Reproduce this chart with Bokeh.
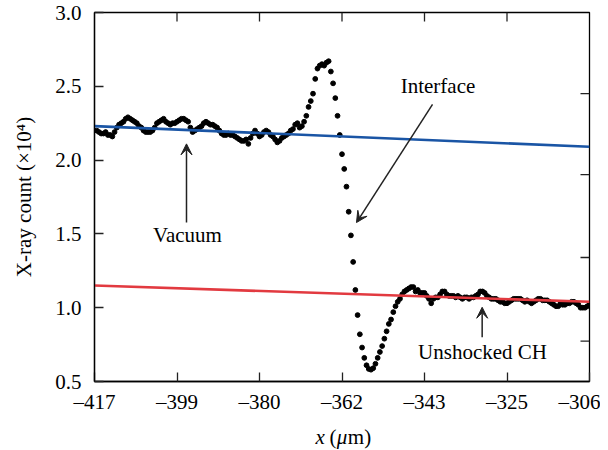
from bokeh.plotting import figure
from bokeh.layouts import column
from bokeh.models import Range1d, FixedTicker, Arrow, VeeHead, Label
from bokeh.embed import file_html
from bokeh.resources import INLINE

FONT = "Liberation Serif"

# ---- data ----
x_um = [
    -416.5, -416.0, -415.5, -415.0, -414.5, -414.0, -413.5, -413.0, -412.5, -412.0,
    -411.5, -411.0, -410.5, -410.0, -409.5, -409.0, -408.5, -408.0, -407.5, -407.0,
    -406.5, -406.0, -405.5, -405.0, -404.5, -404.0, -403.5, -403.0, -402.5, -402.0,
    -401.5, -401.0, -400.5, -400.0, -399.5, -399.0, -398.5, -398.0, -397.5, -397.0,
    -396.5, -396.0, -395.5, -395.0, -394.5, -394.0, -393.5, -393.0, -392.5, -392.0,
    -391.5, -391.0, -390.5, -390.0, -389.5, -389.0, -388.5, -388.0, -387.5, -387.0,
    -386.5, -386.0, -385.5, -385.0, -384.5, -384.0, -383.5, -383.0, -382.5, -382.0,
    -381.5, -381.0, -380.5, -380.0, -379.5, -379.0, -378.5, -378.0, -377.5, -377.0,
    -376.5, -376.0, -375.5, -375.0, -374.5, -374.0, -373.5, -373.0, -372.5, -372.0,
    -371.5, -371.0, -370.5, -370.0, -369.5, -369.0, -368.5, -368.0, -367.5, -367.0,
    -366.5, -366.0, -365.5, -365.0, -364.5, -364.0, -363.5, -363.0, -362.5, -362.0,
    -361.5, -361.0, -360.5, -360.0, -359.5, -359.0, -358.5, -358.0, -357.5, -357.0,
    -356.5, -356.0, -355.5, -355.0, -354.5, -354.0, -353.5, -353.0, -352.5, -352.0,
    -351.5, -351.0, -350.5, -350.0, -349.5, -349.0, -348.5, -348.0, -347.5, -347.0,
    -346.5, -346.0, -345.5, -345.0, -344.5, -344.0, -343.5, -343.0, -342.5, -342.0,
    -341.5, -341.0, -340.5, -340.0, -339.5, -339.0, -338.5, -338.0, -337.5, -337.0,
    -336.5, -336.0, -335.5, -335.0, -334.5, -334.0, -333.5, -333.0, -332.5, -332.0,
    -331.5, -331.0, -330.5, -330.0, -329.5, -329.0, -328.5, -328.0, -327.5, -327.0,
    -326.5, -326.0, -325.5, -325.0, -324.5, -324.0, -323.5, -323.0, -322.5, -322.0,
    -321.5, -321.0, -320.5, -320.0, -319.5, -319.0, -318.5, -318.0, -317.5, -317.0,
    -316.5, -316.0, -315.5, -315.0, -314.5, -314.0, -313.5, -313.0, -312.5, -312.0,
    -311.5, -311.0, -310.5, -310.0, -309.5, -309.0, -308.5, -308.0, -307.5, -307.0,
    -306.5, -306.0,
]
counts = [
    2.20, 2.19, 2.18, 2.18, 2.19, 2.17, 2.17, 2.16, 2.19, 2.22,
    2.24, 2.25, 2.26, 2.28, 2.29, 2.28, 2.27, 2.26, 2.25, 2.23,
    2.22, 2.20, 2.19, 2.19, 2.19, 2.20, 2.22, 2.25, 2.26, 2.27,
    2.28, 2.26, 2.25, 2.24, 2.25, 2.25, 2.26, 2.27, 2.28, 2.28,
    2.27, 2.26, 2.22, 2.19, 2.20, 2.21, 2.22, 2.23, 2.25, 2.26,
    2.25, 2.24, 2.24, 2.23, 2.22, 2.20, 2.18, 2.17, 2.17, 2.18,
    2.17, 2.17, 2.16, 2.15, 2.14, 2.13, 2.13, 2.14, 2.11, 2.15,
    2.18, 2.20, 2.18, 2.16, 2.17, 2.19, 2.20, 2.19, 2.17, 2.16,
    2.14, 2.12, 2.13, 2.15, 2.16, 2.17, 2.18, 2.20, 2.21, 2.24,
    2.25, 2.22, 2.23, 2.26, 2.30, 2.36, 2.40, 2.45, 2.55, 2.62,
    2.64, 2.65, 2.64, 2.66, 2.67, 2.60, 2.52, 2.42, 2.30, 2.17,
    2.04, 1.94, 1.82, 1.65, 1.49, 1.31, 1.12, 0.95, 0.82, 0.73,
    0.66, 0.61, 0.585, 0.58, 0.59, 0.62, 0.66, 0.70, 0.74, 0.79,
    0.84, 0.89, 0.92, 0.97, 1.01, 1.04, 1.06, 1.09, 1.11, 1.12,
    1.13, 1.14, 1.14, 1.11, 1.12, 1.10, 1.10, 1.10, 1.08, 1.06,
    1.03, 1.06, 1.07, 1.07, 1.09, 1.11, 1.11, 1.09, 1.08, 1.08,
    1.08, 1.07, 1.08, 1.07, 1.06, 1.07, 1.07, 1.06, 1.07, 1.07,
    1.08, 1.09, 1.11, 1.11, 1.10, 1.08, 1.07, 1.06, 1.06, 1.06,
    1.05, 1.04, 1.04, 1.03, 1.03, 1.04, 1.05, 1.06, 1.06, 1.06,
    1.06, 1.05, 1.04, 1.05, 1.04, 1.03, 1.04, 1.05, 1.06, 1.06,
    1.05, 1.05, 1.05, 1.04, 1.03, 1.02, 1.01, 1.01, 1.03, 1.02,
    1.02, 1.03, 1.03, 1.04, 1.04, 1.03, 1.02, 1.00, 1.00, 1.00,
    1.01, 1.02,
]
vacuum_x = [-417.0, -306.0]
vacuum_y = [2.23, 2.09]
ch_x = [-417.0, -306.0]
ch_y = [1.15, 1.04]

x_ticks = [-417.0, -398.5, -380.0, -361.5, -343.0, -324.5, -306.0]
x_tick_labels = ["\u2013417", "\u2013399", "\u2013380", "\u2013362", "\u2013343", "\u2013325", "\u2013306"]
y_ticks = [0.5, 1.0, 1.5, 2.0, 2.5, 3.0]
y_tick_labels = ["0.5", "1.0", "1.5", "2.0", "2.5", "3.0"]
right_ticks = [0.773, 1.340, 1.902, 2.450]   # unlabelled ticks on the right edge

# annotations: (text, text x, text baseline y, arrow tail x, tail y, head x, head y)
annotations = [
    ("Vacuum", -396.15, 1.491, -396.37, 1.577, -396.37, 2.110),
    ("Interface", -339.97, 2.500, -341.2, 2.377, -358.25, 1.577),
    ("Unshocked CH", -329.99, 0.703, -330.07, 0.80, -330.07, 1.003),
]

# ---- main figure ----
X0, X1, Y0, Y1 = -417.0, -306.0, 0.5, 3.0
FW, FH = 495, 369
TICK = 9

p = figure(frame_width=FW, frame_height=FH, x_range=Range1d(X0, X1), y_range=Range1d(Y0, Y1),
           output_backend="svg", toolbar_location=None,
           min_border_left=94, min_border_right=11, min_border_top=12, min_border_bottom=37)
p.grid.visible = False
p.outline_line_color = "black"
p.outline_line_width = 1.3
p.background_fill_color = "white"
p.border_fill_color = "white"


def style(ax):
    ax.major_tick_in = TICK
    ax.major_tick_out = 0
    ax.minor_tick_in = 0
    ax.minor_tick_out = 0
    ax.axis_line_color = "black"
    ax.axis_line_width = 1.3
    ax.major_tick_line_color = "#222222"
    ax.major_tick_line_width = 1.3
    ax.major_label_text_font = FONT
    ax.major_label_text_color = "black"
    ax.major_label_text_font_size = "21px"


xa = p.xaxis[0]
xa.ticker = FixedTicker(ticks=x_ticks)
xa.major_label_overrides = dict(zip(x_ticks, x_tick_labels))
style(xa)
xa.major_label_standoff = 8

ya = p.yaxis[0]
ya.ticker = FixedTicker(ticks=y_ticks)
ya.major_label_overrides = dict(zip(y_ticks, y_tick_labels))
style(ya)
ya.major_label_standoff = 13
ya.axis_label = "X-ray count (\u00d710\u2074)"
ya.axis_label_text_font = FONT
ya.axis_label_text_font_size = "21px"
ya.axis_label_text_font_style = "normal"
ya.axis_label_text_color = "black"
ya.axis_label_standoff = 16

# inward ticks on the top and right edges (no labels)
dx = TICK * (X1 - X0) / FW
dy = TICK * (Y1 - Y0) / FH
top_t = x_ticks[1:-1]
p.segment(x0=top_t, y0=[Y1] * len(top_t), x1=top_t, y1=[Y1 - dy] * len(top_t),
          line_color="#222222", line_width=1.3)
p.segment(x0=[X1] * len(right_ticks), y0=right_ticks, x1=[X1 - dx] * len(right_ticks), y1=right_ticks,
          line_color="#222222", line_width=1.3)

# data points
p.scatter(x_um, counts, size=4.8, color="black")

# reference lines
p.line(vacuum_x, vacuum_y, line_color="#1a55a5", line_width=2.6)
p.line(ch_x, ch_y, line_color="#e23a40", line_width=2.6)

# annotations
for text, tx, ty, ax0, ay0, ax1, ay1 in annotations:
    p.add_layout(Label(x=tx, y=ty, text=text, text_font=FONT, text_font_size="21px",
                       text_align="center", text_baseline="alphabetic", text_color="black"))
    p.add_layout(Arrow(x_start=ax0, y_start=ay0, x_end=ax1, y_end=ay1,
                       line_color="#222222", line_width=1.5,
                       end=VeeHead(size=11, fill_color="#222222", line_color="#222222", line_width=1)))

# ---- strip below for the x-axis title "x (μm)" (italic x and μ) ----
STRIP_H = 32
q = figure(frame_width=FW, frame_height=STRIP_H, x_range=p.x_range, y_range=Range1d(0, STRIP_H),
           output_backend="svg", toolbar_location=None, x_axis_location=None, y_axis_location=None,
           min_border_left=94, min_border_right=11, min_border_top=0, min_border_bottom=0)
q.grid.visible = False
q.outline_line_color = None
q.background_fill_color = "white"
q.border_fill_color = "white"

x_label_parts = [("x", -367.44, "italic"), ("(", -364.3, "normal"),
                 ("\u03bc", -362.7, "italic"), ("m)", -360.2, "normal")]
for t, lx, st in x_label_parts:
    q.add_layout(Label(x=lx, y=14, text=t, text_font=FONT, text_font_size="21px",
                       text_font_style=st, text_align="left", text_baseline="alphabetic",
                       text_color="black"))

layout = column(p, q, spacing=0)
open("out.html", "w").write(file_html(layout, INLINE))
